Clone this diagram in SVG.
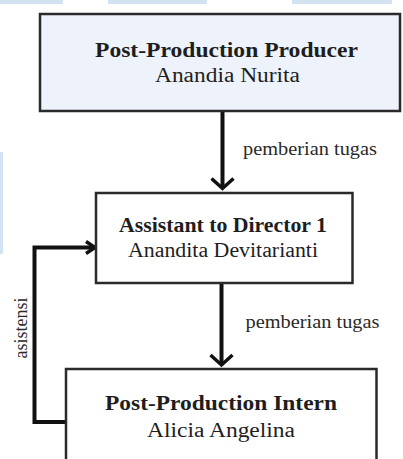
<svg xmlns="http://www.w3.org/2000/svg" width="403" height="459" viewBox="0 0 403 459">
<style>
.box{stroke:#2a2a2a;stroke-width:2.5}
.t{font-family:"Liberation Serif","Times New Roman",serif;fill:#1e1e1e;text-anchor:middle}
.b{font-weight:bold;font-size:20px}
.r{font-size:20px}
.lbl{font-family:"Liberation Serif","Times New Roman",serif;fill:#2a2a2a;font-size:18px}
.ln{fill:none;stroke:#111;stroke-width:4}
.hd{fill:none;stroke:#111;stroke-width:3.5;stroke-linejoin:miter}
.wm{fill:#d3e2f1}
</style>
<rect width="403" height="459" fill="#fff"/>
<g id="watermark">
<rect class="wm" x="0" y="0" width="63" height="4"/>
<rect class="wm" x="108" y="0" width="99" height="4"/>
<rect class="wm" x="292" y="0" width="100" height="4"/>
<rect class="wm" x="0" y="152" width="3" height="102"/>
</g>
<g id="connectors">
<line class="ln" x1="222.5" y1="112" x2="222.5" y2="187"/>
<polyline class="hd" points="211.5,178.5 222.5,188.5 233.5,178.5"/>
<line class="ln" x1="221.5" y1="284" x2="221.5" y2="364"/>
<polyline class="hd" points="210.5,355 221.5,365 232.5,355"/>
<polyline class="ln" points="66,422 34.5,422 34.5,247.5 93,247.5"/>
<polyline class="hd" points="86,241.5 95,247.5 86,253.5"/>
<text class="lbl" x="243" y="155" textLength="134" lengthAdjust="spacingAndGlyphs">pemberian tugas</text>
<text class="lbl" x="245.5" y="328" textLength="134" lengthAdjust="spacingAndGlyphs">pemberian tugas</text>
<text class="lbl" transform="translate(27,328) rotate(-90)" text-anchor="middle" font-size="17.5">asistensi</text>
</g>
<g id="producer">
<rect class="box" x="40" y="14" width="360" height="97" fill="#eef3fb"/>
<text class="t b" x="226.5" y="57" textLength="263" lengthAdjust="spacingAndGlyphs">Post-Production Producer</text>
<text class="t r" x="227.5" y="82" textLength="145" lengthAdjust="spacingAndGlyphs">Anandia Nurita</text>
</g>
<g id="assistant">
<rect class="box" x="96" y="193" width="256.5" height="90" fill="#fff" stroke-width="2"/>
<text class="t b" x="223" y="232" textLength="208" lengthAdjust="spacingAndGlyphs">Assistant to Director 1</text>
<text class="t r" x="223" y="257" textLength="190" lengthAdjust="spacingAndGlyphs">Anandita Devitarianti</text>
</g>
<g id="intern">
<rect class="box" x="66" y="369" width="310.5" height="100" fill="#fff" stroke="#111" stroke-width="3"/>
<text class="t b" x="221" y="410" textLength="232" lengthAdjust="spacingAndGlyphs">Post-Production Intern</text>
<text class="t r" x="221" y="437" textLength="148" lengthAdjust="spacingAndGlyphs">Alicia Angelina</text>
</g>
</svg>
